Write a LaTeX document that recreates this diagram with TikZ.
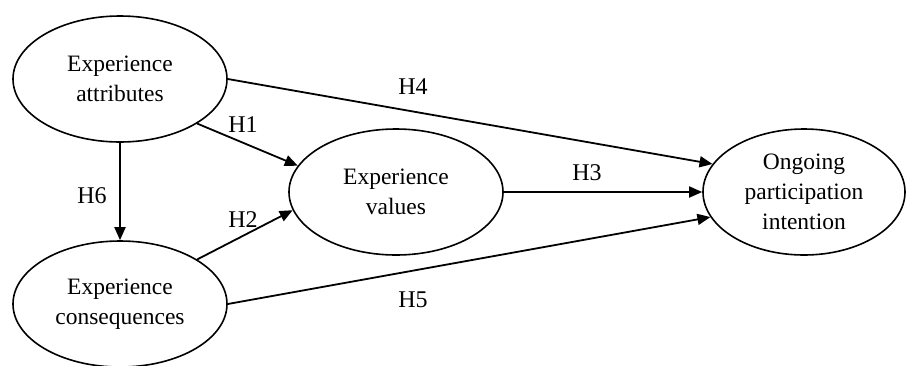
\documentclass[tikz,border=0pt]{standalone}
\usepackage{fontspec}
\setmainfont{Liberation Serif}
\usetikzlibrary{shapes.geometric,arrows.meta}
\begin{document}
\begin{tikzpicture}[x=1pt,y=-1pt,
  construct/.style={draw,line width=1.6pt,ellipse,inner sep=0pt,minimum width=214pt,minimum height=126pt,align=center,font=\fontsize{23.5}{30}\selectfont},
  link/.style={line width=1.8pt,-{Triangle[length=13pt,width=11pt]}},
  hyp/.style={font=\fontsize{24}{25}\selectfont,inner sep=0pt}]
\useasboundingbox (0,0) rectangle (906,365);
\node[construct] (attr) at (120,79) {Experience\\attributes};
\node[construct] (cons) at (120,304) {Experience\\consequences};
\node[construct] (val) at (396,192) {Experience\\values};
\node[construct,minimum width=202pt] (ong) at (804,192) {Ongoing\\participation\\intention};
\draw[link] (attr.east) -- (ong.163);
\draw[link] (attr.-30) -- (val.165);
\draw[link] (attr.south) -- (cons.north);
\draw[link] (cons.30) -- (val.190);
\draw[link] (val.east) -- (ong.west);
\draw[link] (cons.east) -- (ong.195);
\node[hyp] (h4) at (413,87) {H4};
\node[hyp] (h1) at (243,125) {H1};
\node[hyp] (h6) at (92,196) {H6};
\node[hyp] (h2) at (243,220) {H2};
\node[hyp] (h3) at (587,173) {H3};
\node[hyp] (h5) at (413,300) {H5};
\end{tikzpicture}
\end{document}
